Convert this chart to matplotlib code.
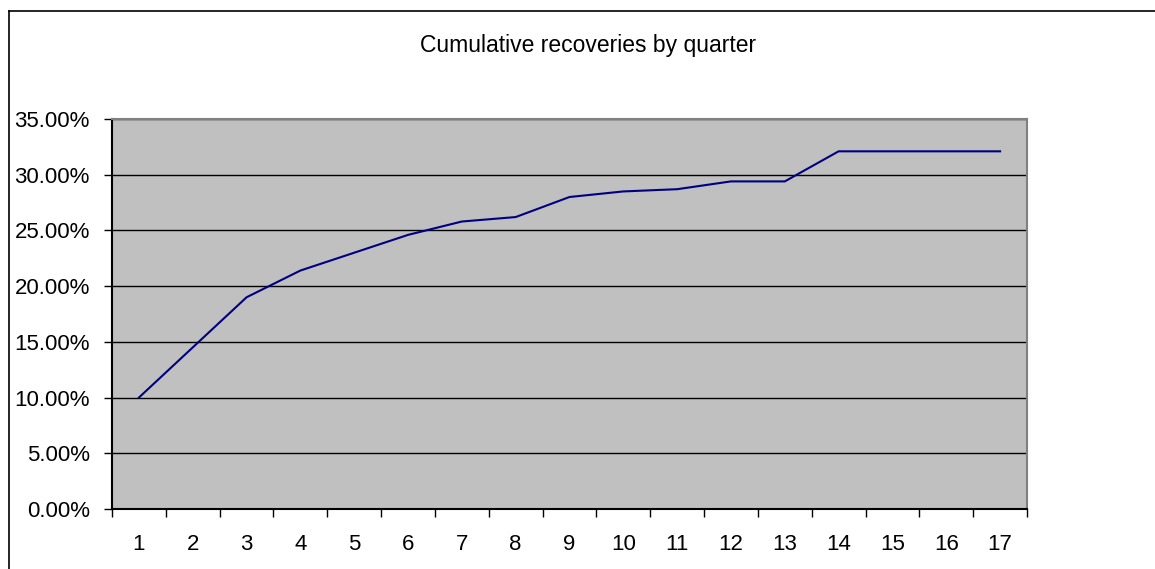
import matplotlib
matplotlib.use('Agg')
import matplotlib.pyplot as plt
from matplotlib.lines import Line2D
from matplotlib.ticker import FuncFormatter
import numpy as np

quarters = list(range(1, 18))
recoveries = [10.0, 14.5, 19.0, 21.4, 23.0, 24.6, 25.8, 26.2, 28.0, 28.5,
              28.7, 29.4, 29.4, 32.1, 32.1, 32.1, 32.1]
yticks = [0, 5, 10, 15, 20, 25, 30, 35]

plt.rcParams['font.family'] = ['Liberation Sans', 'DejaVu Sans']

fig = plt.figure(figsize=(11.55, 5.69), dpi=100)
ax = fig.add_axes([112/1155, 1 - 509/569, (1027-112)/1155, (509-119)/569])
ax.set_facecolor('#c0c0c0')

ax.plot(quarters, recoveries, color='#000080', lw=1.5)

ax.set_xlim(0.5, 17.5)
ax.set_ylim(0, 35)
ax.set_yticks(yticks)
ax.yaxis.set_major_formatter(FuncFormatter(lambda v, p: '%.2f%%' % v))
ax.yaxis.grid(True, color='black', lw=1)
ax.set_axisbelow(True)

# ticks between categories, labels in the middle
ax.set_xticks(np.arange(0.5, 18, 1.0))
ax.set_xticklabels([])
ax.set_xticks(quarters, minor=True)
ax.set_xticklabels([str(q) for q in quarters], minor=True)
ax.tick_params(axis='x', which='minor', length=0, pad=18, labelsize=16)
ax.tick_params(axis='x', which='major', length=6, width=1, direction='out')
ax.tick_params(axis='y', length=6, width=1, direction='out', labelsize=16, pad=10)

for s in ['top', 'right']:
    ax.spines[s].set_color('#808080')
    ax.spines[s].set_linewidth(1.5)
for s in ['left', 'bottom']:
    ax.spines[s].set_color('black')
    ax.spines[s].set_linewidth(1.5)

fig.text(588/1155, 1 - 52/569, 'Cumulative recoveries by quarter',
         ha='center', va='baseline', fontsize=16.5)

# chart frame (only left and top edges fall inside the picture)
fig.add_artist(Line2D([9/1155, 9/1155], [0, 1 - 11/569], color='black', lw=1.2))
fig.add_artist(Line2D([9/1155, 1], [1 - 11/569, 1 - 11/569], color='black', lw=1.2))

fig.savefig('out.png', dpi=100)
